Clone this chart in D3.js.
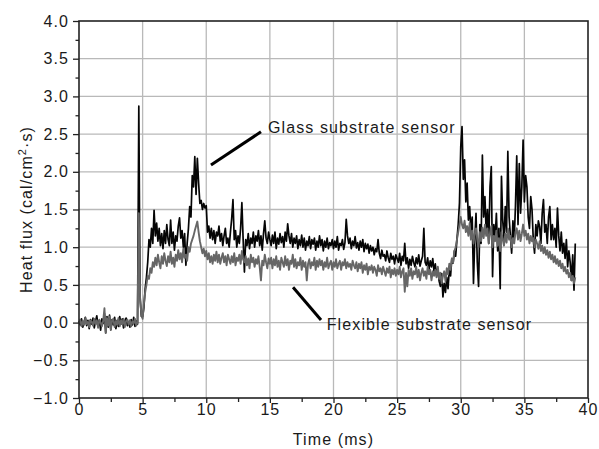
<!DOCTYPE html>
<html>
<head>
<meta charset="utf-8">
<script src="https://cdn.jsdelivr.net/npm/d3@7"></script>
<style>
  body { margin: 0; background: #fff; }
  text { font-family: "Liberation Sans", Arial, Helvetica, sans-serif; }
</style>
</head>
<body>
<div id="chart"></div>
<script>
// samples every 0.1 ms, from 0 to 39 ms
const sampleStep = 0.1;

// glass substrate sensor (black)
const glass = [
  0.02, -0.03, 0.05, -0.06, 0.01, 0.07, -0.04, 0.03, -0.08, 0.04,
  -0.02, 0.06, -0.07, 0.02, 0.09, -0.05, 0.03, -0.10, 0.05, -0.01,
  0.12, -0.13, 0.08, -0.06, 0.10, -0.09, 0.04, -0.03, 0.07, -0.08,
  0.03, -0.05, 0.08, -0.02, 0.05, -0.07, 0.02, 0.06, -0.04, 0.01,
  -0.06, 0.04, -0.03, 0.07, -0.05, 0.02, -0.02, 2.87, 0.35, 0.08,
  0.08, 0.20, 0.45, 0.60, 0.80, 1.10, 1.00, 1.25, 1.05, 1.49,
  1.15, 1.32, 1.08, 1.25, 1.02, 1.18, 0.98, 1.22, 1.05, 1.30,
  1.10, 1.02, 1.36, 1.05, 1.20, 0.96, 1.15, 1.08, 1.28, 1.39,
  1.12, 1.22, 1.00, 1.18, 0.76, 1.05, 1.25, 1.54, 1.40, 1.95,
  1.80, 2.20, 1.70, 2.18, 1.85, 1.58, 1.62, 1.50, 1.58, 1.52,
  1.55, 1.20, 1.28, 1.12, 1.25, 1.10, 1.22, 1.05, 1.20, 1.15,
  1.28, 1.08, 1.18, 1.02, 1.15, 1.25, 1.05, 1.12, 1.00, 1.20,
  1.38, 1.63, 1.10, 1.22, 1.00, 1.15, 1.05, 1.25, 1.59, 1.10,
  0.67, 1.10, 1.02, 1.18, 0.98, 1.12, 1.05, 1.20, 1.00, 1.15,
  1.08, 1.22, 1.02, 1.15, 0.96, 1.18, 1.35, 1.12, 1.05, 1.20,
  1.10, 1.02, 1.16, 1.05, 1.20, 0.98, 1.12, 1.04, 1.18, 1.06,
  1.14, 1.00, 1.20, 1.08, 1.31, 1.15, 1.05, 1.18, 1.00, 1.12,
  1.05, 1.15, 0.98, 1.10, 1.02, 1.16, 1.00, 1.12, 0.96, 1.08,
  1.02, 1.14, 0.98, 1.10, 1.04, 1.12, 0.96, 1.08, 1.00, 1.15,
  1.02, 1.10, 0.95, 1.08, 1.00, 1.12, 0.98, 1.06, 1.02, 1.10,
  0.98, 1.08, 1.00, 1.14, 0.96, 1.05, 1.02, 1.10, 0.97, 1.06,
  1.37, 1.15, 1.05, 1.12, 0.98, 1.08, 1.02, 1.14, 0.99, 1.06,
  0.96, 1.08, 1.00, 1.10, 0.94, 1.05, 0.98, 1.04, 0.92, 1.02,
  0.95, 1.00, 0.90, 0.98, 0.94, 1.10, 0.92, 0.85, 0.96, 0.88,
  0.90, 0.82, 0.95, 0.86, 0.80, 0.92, 0.84, 0.88, 0.78, 0.90,
  0.85, 0.80, 0.92, 0.76, 0.88, 0.82, 1.05, 0.78, 0.86, 0.72,
  0.84, 0.76, 0.88, 0.80, 0.74, 0.86, 0.78, 0.90, 0.75, 0.82,
  0.88, 1.25, 0.80, 0.76, 0.86, 0.70, 0.82, 0.74, 0.85, 0.68,
  0.78, 0.62, 0.72, 0.55, 0.48, 0.65, 0.34, 0.52, 0.40, 0.60,
  0.45, 0.70, 0.62, 0.85, 0.79, 0.95, 0.88, 1.10, 1.30, 1.59,
  2.33, 2.60, 1.90, 2.16, 1.60, 1.85, 1.36, 1.54, 1.20, 1.40,
  0.52, 1.10, 1.45, 0.80, 0.48, 1.30, 1.05, 2.22, 1.40, 1.67,
  1.20, 1.50, 1.05, 1.80, 2.07, 0.61, 1.30, 1.10, 1.45, 0.95,
  1.25, 0.45, 1.94, 1.35, 1.10, 1.54, 1.20, 2.27, 1.40, 1.15,
  0.92, 1.35, 1.10, 1.55, 2.21, 1.30, 2.11, 1.45, 1.80, 2.42,
  1.60, 1.95, 1.80, 1.40, 1.25, 1.67, 1.50, 1.10, 0.92, 1.30,
  1.15, 1.35, 1.27, 1.05, 1.45, 1.63, 1.20, 1.30, 1.05, 1.40,
  1.54, 1.10, 1.30, 1.10, 1.25, 1.00, 1.52, 1.15, 0.95, 1.20,
  0.92, 1.05, 0.85, 1.10, 0.74, 0.95, 0.80, 0.56, 0.90, 0.43,
  1.05
];

// flexible substrate sensor (grey)
const flexible = [
  -0.01, 0.04, -0.05, 0.02, -0.03, 0.06, -0.02, 0.01, -0.06, 0.03,
  0.01, -0.04, 0.05, -0.02, 0.03, -0.07, 0.04, 0.00, -0.05, 0.02,
  0.19, -0.14, 0.06, -0.04, 0.08, -0.10, 0.03, 0.05, -0.06, 0.02,
  -0.03, 0.06, -0.05, 0.03, -0.02, 0.05, -0.06, 0.02, 0.04, -0.03,
  0.03, -0.05, 0.02, -0.01, 0.05, -0.04, 0.01, 1.45, 0.30, 0.12,
  0.05, 0.25, 0.40, 0.50, 0.62, 0.58, 0.72, 0.66, 0.80, 0.74,
  0.86, 0.76, 0.90, 0.80, 0.72, 0.88, 0.78, 0.92, 0.82, 0.75,
  0.88, 0.80, 0.94, 0.78, 0.86, 0.74, 0.90, 0.82, 0.96, 0.84,
  0.92, 0.80, 0.98, 0.86, 0.90, 0.82, 1.00, 0.94, 1.05, 1.10,
  1.15, 1.22, 1.28, 1.34, 1.20, 1.08, 1.00, 0.92, 0.98, 0.88,
  0.95, 0.84, 0.92, 0.80, 0.88, 0.78, 0.90, 0.82, 0.94, 0.80,
  0.90, 0.78, 0.86, 0.92, 0.80, 0.88, 0.76, 0.90, 0.84, 0.78,
  0.88, 0.80, 0.92, 0.76, 0.86, 0.82, 0.90, 0.78, 0.95, 0.84,
  0.80, 0.88, 0.76, 0.85, 0.72, 0.90, 0.80, 0.86, 0.74, 0.84,
  0.78, 0.88, 0.74, 0.56, 0.82, 0.76, 0.90, 0.80, 0.72, 0.85,
  0.78, 0.86, 0.72, 0.84, 0.76, 0.88, 0.74, 0.82, 0.70, 0.86,
  0.80, 0.74, 0.88, 0.76, 0.84, 0.70, 0.82, 0.78, 0.90, 0.74,
  0.84, 0.72, 0.80, 0.76, 0.86, 0.70, 0.82, 0.74, 0.80, 0.56,
  0.78, 0.84, 0.72, 0.80, 0.76, 0.86, 0.70, 0.82, 0.74, 0.84,
  0.76, 0.82, 0.70, 0.80, 0.74, 0.86, 0.72, 0.78, 0.82, 0.70,
  0.80, 0.74, 0.84, 0.72, 0.78, 0.82, 0.70, 0.80, 0.76, 0.84,
  0.72, 0.80, 0.74, 0.78, 0.70, 0.82, 0.76, 0.72, 0.80, 0.68,
  0.78, 0.72, 0.80, 0.66, 0.76, 0.70, 0.78, 0.64, 0.74, 0.70,
  0.76, 0.66, 0.74, 0.70, 0.62, 0.76, 0.68, 0.72, 0.64, 0.74,
  0.68, 0.62, 0.72, 0.66, 0.74, 0.60, 0.70, 0.64, 0.72, 0.62,
  0.70, 0.64, 0.74, 0.60, 0.68, 0.72, 0.41, 0.66, 0.48, 0.70,
  0.62, 0.72, 0.58, 0.68, 0.64, 0.74, 0.60, 0.70, 0.56, 0.66,
  0.72, 0.62, 0.68, 0.58, 0.74, 0.64, 0.70, 0.56, 0.68, 0.62,
  0.70, 0.60, 0.74, 0.58, 0.66, 0.52, 0.62, 0.68, 0.55, 0.72,
  0.64, 0.78, 0.70, 0.85, 0.80, 0.95, 1.00, 1.10, 1.20, 1.30,
  1.40, 1.30, 1.25, 1.35, 1.20, 1.28, 1.15, 1.32, 1.10, 1.22,
  1.05, 1.18, 1.25, 1.10, 1.00, 1.20, 1.08, 1.26, 1.12, 1.30,
  1.15, 1.25, 1.05, 1.18, 1.28, 1.00, 1.15, 1.08, 1.22, 1.02,
  1.12, 0.95, 1.20, 1.10, 1.02, 1.18, 1.06, 1.25, 1.10, 1.15,
  1.00, 1.12, 1.05, 1.20, 1.25, 1.10, 1.22, 1.08, 1.18, 1.30,
  1.15, 1.22, 1.10, 1.18, 1.05, 1.15, 1.08, 1.12, 1.00, 1.10,
  1.05, 0.98, 1.08, 0.95, 1.02, 0.92, 1.00, 0.90, 0.96, 0.86,
  0.94, 0.84, 0.90, 0.80, 0.88, 0.78, 0.84, 0.75, 0.82, 0.72,
  0.78, 0.68, 0.74, 0.65, 0.70, 0.60, 0.66, 0.56, 0.62, 0.52,
  0.60
];

const xTicks = [0, 5, 10, 15, 20, 25, 30, 35, 40];
const yTicks = [-1.0, -0.5, 0.0, 0.5, 1.0, 1.5, 2.0, 2.5, 3.0, 3.5, 4.0];
const xMinor = [2.5, 7.5, 12.5, 17.5, 22.5, 27.5, 32.5, 37.5];
const yMinor = [-0.75, -0.25, 0.25, 0.75, 1.25, 1.75, 2.25, 2.75, 3.25, 3.75];

const svgWidth = 599;
const svgHeight = 449;
const svg = d3.select('#chart')
  .append('svg')
  .attr('width', svgWidth)
  .attr('height', svgHeight);

const margin = { top: 21, right: 11, bottom: 51, left: 79 };
const width = svgWidth - margin.left - margin.right;
const height = svgHeight - margin.top - margin.bottom;
const graph = svg.append('g')
  .attr('transform', `translate(${margin.left},${margin.top})`);

const xScale = d3.scaleLinear().domain([0, 40]).range([0, width]);
const yScale = d3.scaleLinear().domain([-1, 4]).range([height, 0]);

const textStyle = sel => sel
  .attr('font-size', 16)
  .attr('letter-spacing', '1.1px')
  .attr('fill', '#1a1a1a');

// grid
graph.append('g').selectAll('line')
  .data(xTicks.slice(1, -1))
  .join('line')
  .attr('x1', d => xScale(d)).attr('x2', d => xScale(d))
  .attr('y1', 0).attr('y2', height)
  .attr('stroke', '#b9b9b9').attr('stroke-width', 1.3);
graph.append('g').selectAll('line')
  .data(yTicks.slice(1, -1))
  .join('line')
  .attr('x1', 0).attr('x2', width)
  .attr('y1', d => yScale(d)).attr('y2', d => yScale(d))
  .attr('stroke', '#b9b9b9').attr('stroke-width', 1.3);

// curves
const line = d3.line()
  .x((d, i) => xScale(i * sampleStep))
  .y(d => yScale(d));
graph.append('path')
  .datum(glass)
  .attr('d', line)
  .attr('fill', 'none')
  .attr('stroke', '#050505')
  .attr('stroke-width', 1.7)
  .attr('stroke-linejoin', 'round');
graph.append('path')
  .datum(flexible)
  .attr('d', line)
  .attr('fill', 'none')
  .attr('stroke', '#666')
  .attr('stroke-width', 1.9)
  .attr('stroke-linejoin', 'round');

// frame
graph.append('rect')
  .attr('width', width).attr('height', height)
  .attr('fill', 'none')
  .attr('stroke', '#222').attr('stroke-width', 1.6);

// axes
graph.append('g')
  .attr('transform', `translate(0,${height})`)
  .call(d3.axisBottom(xScale).tickValues(xTicks).tickSize(5).tickPadding(1).tickFormat(d3.format('d')));
graph.append('g')
  .attr('transform', `translate(0,${height})`)
  .call(d3.axisBottom(xScale).tickValues(xMinor).tickSize(4).tickFormat(''));
const yAxis = graph.append('g')
  .call(d3.axisLeft(yScale).tickValues(yTicks).tickSize(6).tickPadding(4).tickFormat(d3.format('.1f')));
graph.append('g')
  .call(d3.axisLeft(yScale).tickValues(yMinor).tickSize(3.5).tickFormat(''));

graph.selectAll('.domain').remove();
graph.selectAll('.tick line').attr('stroke', '#222').attr('stroke-width', 1.3);
graph.selectAll('.tick text').call(textStyle).attr('font-family', null);
yAxis.selectAll('.tick text').text(d => d3.format('.1f')(d).replace('-', '\u2212'));

// axis titles
graph.append('text')
  .attr('x', width / 2).attr('y', height + 47)
  .attr('text-anchor', 'middle')
  .call(textStyle)
  .text('Time (ms)');
const yTitle = graph.append('text')
  .attr('transform', `translate(${32 - margin.left},${height / 2}) rotate(-90)`)
  .attr('text-anchor', 'middle')
  .call(textStyle);
yTitle.append('tspan').text('Heat flux (cal/cm');
yTitle.append('tspan').attr('font-size', 11).attr('baseline-shift', 'super').text('2');
yTitle.append('tspan').text('\u00b7s)');

// annotations
graph.append('line')
  .attr('x1', xScale(10.37)).attr('y1', yScale(2.09))
  .attr('x2', xScale(14.3)).attr('y2', yScale(2.53))
  .attr('stroke', '#000').attr('stroke-width', 3);
graph.append('text')
  .attr('x', xScale(14.85)).attr('y', yScale(2.52))
  .call(textStyle)
  .text('Glass substrate sensor');
graph.append('line')
  .attr('x1', xScale(16.82)).attr('y1', yScale(0.47))
  .attr('x2', xScale(19.02)).attr('y2', yScale(0.035))
  .attr('stroke', '#000').attr('stroke-width', 3);
graph.append('text')
  .attr('x', xScale(19.47)).attr('y', yScale(-0.1))
  .call(textStyle)
  .text('Flexible substrate sensor');
</script>
</body>
</html>
